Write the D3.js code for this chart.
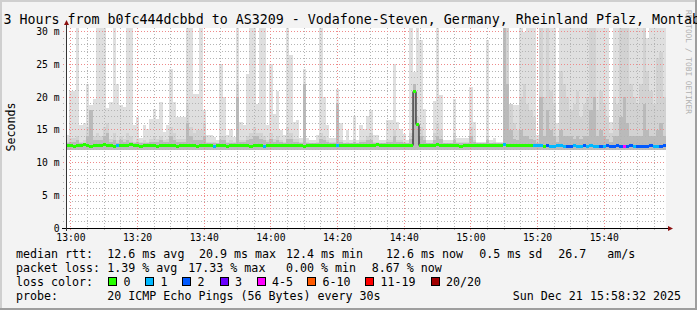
<!DOCTYPE html>
<html>
<head>
<meta charset="utf-8">
<script src="https://cdn.jsdelivr.net/npm/d3@7"></script>
<style>
  body { margin: 0; background: #f3f3f3; }
  svg { display: block; }
  text { font-family: "DejaVu Sans Mono", monospace; fill: #000; }
</style>
</head>
<body>
<div id="chart"></div>
<script>
// data: one bin per minute, 12:58:32 .. 15:58:32 (values in ms)
var startTime = new Date(2025, 11, 21, 12, 58, 32);
var endTime = new Date(2025, 11, 21, 15, 58, 32);

var smokeMax = [
  14.2,21,21,31,15.7,16,22,18.8,19.8,31,
  31,31,18.3,19.3,31,22,18.8,18.5,31,31,
  15.7,17,13.7,15.7,15.2,16.7,18.2,16.7,19.3,14.7,
  15.7,24.4,19.3,17,17,17,31,31,20.5,20.5,
  31,18,14.2,14.2,13.9,13.4,25.1,20,14.2,15.2,
  13.9,31,16.2,15.7,23.6,31,31,19,31,31,
  15.7,25.1,17.5,21,15,14.2,31,26.4,16.2,16.5,
  13.7,24.4,13.7,13.4,13.4,14.2,31,20,15.7,13.7,
  13.7,21.3,16,13.4,15,13.4,17.2,13.4,15.7,15.2,
  17.2,18,14.2,14.2,13.4,13.4,16.5,16.5,25.1,16.2,
  15.2,14.4,13.4,31,23.8,31,28.7,18.2,13.4,13.4,
  19.5,31,20.3,13.4,13.4,13.4,19.8,13.7,13.7,13.7,
  13.7,21.6,16.2,13.2,13.2,13.2,28.7,13.4,13.7,13.2,
  13.2,31,31,19,18.8,18.8,31,30,31,31,
  31,14.2,31,31,31,31,31,16,31,31,
  31,31,31,31,31,31,31,31,31,31,
  31,31,31,16.2,31,31,31,31,31,31,
  31,31,31,31,29,31,31,31,31,31
];

var smokeMid = [
  13.2,13.8,13.8,14,13.2,13.4,15.5,17,14,14.5,
  14,15.5,16,13.6,14.5,13.4,14,13.6,14.5,14,
  13.2,13.6,13.1,13.4,13.2,13.6,14,13.6,14,13.4,
  13.6,15.5,14.5,13.6,13.6,13.6,19,15.5,14.5,15,
  15,16,13.2,13.2,13.1,13,14,14,13.2,13.4,
  13.1,22,13.4,13.4,14,14.5,15.5,14.5,14.5,14,
  13.4,14.5,13.6,14,13.4,13.2,15.5,14.5,13.6,13.6,
  13.1,22,13.1,13,13,13.2,14.5,14,13.4,13.1,
  13.1,19,13.4,13,13.2,13,13.6,13,13.4,13.4,
  14,14.5,13.2,13.2,13,13,13.4,13.4,15,13.4,
  13.4,13.2,13,14.5,22,17,15.5,14,13,13,
  14.5,16,15,13,13,13,14.5,13.1,13.1,13.1,
  13.1,15.5,13.4,13,13,13,14,13,13.1,13,
  13,31,31,19,16,15,20,22,19,18,
  17,13.6,31,20,31,21,19,14,24,22,
  20,18,19,21,17,19,20,31,31,18,
  21,19,17,14.5,20,19,31,31,31,22,
  20,19,22,31,24,21,19,26,27,20
];

var smokeDark = [
  13,13.2,13.2,13.4,13,13,14,18,13.4,13.4,
  13.4,14,14.5,13.2,13.4,13,13.4,13.2,13.4,13.2,
  13,13.2,13,13,13,13.2,13.2,13.2,13.4,13.2,
  13.2,14,13.4,13.2,13.2,13.2,16,14,13.4,13.4,
  13.4,14,13,13,13,13,13.4,13.4,13,13,
  13,20,13.2,13.2,13.4,13.6,14,14,13.6,13.4,
  13.2,13.6,13.2,13.4,13.2,13,13.6,13.6,13.2,13.2,
  13,22,13,13,13,13,13.6,13.4,13.2,13,
  13,19,13.2,13,13,13,13.2,13,13.2,13.2,
  13.4,13.4,13,13,13,13,13.2,13.2,14,13.2,
  13.2,13,13,13.6,22,16,14,13.4,13,13,
  13.4,14,13.6,13,13,13,13.4,13,13,13,
  13,14,13.2,13,13,13,13.4,13,13,13,
  13,31,22,15,13.6,13.4,15,14,14,13.6,
  13.4,13,20,14,18,15,14,13.2,15,14,
  14,14,13.6,14,13.6,14,14,18,20,14,
  15,14,13.6,13.2,14,14,17,20,16,14,
  14,14,14,19,15,14,14,15,16,14
];

var smokeFloor = 12.0;

var median = [
  12.6,12.6,12.5,12.6,12.6,12.7,12.6,12.5,12.6,12.6,
  12.6,12.7,12.6,12.6,12.5,12.6,12.6,12.6,12.6,12.7,
  12.6,12.6,12.5,12.6,12.6,12.6,12.6,12.5,12.6,12.6,
  12.6,12.6,12.6,12.5,12.6,12.6,12.6,12.6,12.6,12.5,
  12.6,12.6,12.6,12.6,12.5,12.6,12.6,12.6,12.5,12.6,
  12.6,12.6,12.6,12.6,12.6,12.5,12.6,12.6,12.6,12.5,
  12.6,12.6,12.6,12.6,12.6,12.6,12.6,12.6,12.6,12.6,
  12.6,12.5,12.6,12.6,12.6,12.6,12.6,12.6,12.6,12.6,
  12.6,12.6,12.6,12.6,12.6,12.6,12.6,12.6,12.6,12.6,
  12.6,12.6,12.6,12.7,12.6,12.6,12.6,12.6,12.6,12.6,
  12.6,12.6,12.6,12.6,20.9,15.8,12.6,12.6,12.6,12.6,
  12.6,12.7,12.6,12.6,12.6,12.6,12.6,12.6,12.5,12.6,
  12.6,12.6,12.6,12.6,12.6,12.6,12.6,12.6,12.6,12.6,
  12.6,12.7,12.6,12.6,12.6,12.6,12.6,12.6,12.6,12.6,
  12.6,12.6,12.6,12.5,12.6,12.5,12.5,12.6,12.6,12.5,
  12.5,12.5,12.6,12.5,12.5,12.6,12.5,12.6,12.5,12.5,
  12.5,12.5,12.6,12.5,12.5,12.6,12.5,12.4,12.5,12.6,
  12.5,12.4,12.4,12.5,12.5,12.6,12.5,12.4,12.5,12.6
];

// lost pings (of 20) per bin
var loss = [
  0,0,0,0,0,0,0,0,0,0,
  0,0,0,0,0,1,0,0,0,0,
  0,0,0,0,0,0,0,0,0,0,
  0,0,0,0,0,0,0,0,0,0,
  0,0,0,0,1,0,0,0,0,0,
  0,0,0,0,0,0,0,0,0,1,
  0,0,0,0,0,0,0,0,0,0,
  0,0,0,0,0,0,0,0,0,0,
  0,1,0,0,0,0,0,0,0,0,
  0,0,0,0,0,0,0,0,0,0,
  0,0,0,0,0,0,0,0,0,0,
  0,0,0,0,0,0,0,0,0,0,
  0,0,0,0,0,0,0,0,0,0,
  0,1,0,0,0,0,0,0,0,0,
  1,1,1,0,2,1,1,1,1,1,
  2,2,1,1,1,2,1,1,1,1,
  2,1,2,2,2,2,2,4,2,2,
  1,2,2,2,2,2,1,1,2,2
];

var lossLabels = ["0", "1", "2", "3", "4-5", "6-10", "11-19", "20/20"];
var lossUpper = [0, 1, 2, 3, 5, 10, 19, 20];
var lossColors = ["#26ff00", "#00b8ff", "#0059ff", "#6a00ff", "#ff00ff", "#ff5a00", "#ff0000", "#a10000"];

var yTicks = [0, 5, 10, 15, 20, 25, 30];

var titleText = "3 Hours from b0fc444dcbbd to AS3209 - Vodafone-Steven, Germany, Rheinland Pfalz, Montabaur";
var rttLegend = ["median rtt:", "12.6 ms avg", "20.9 ms max", "12.4 ms min", "12.6 ms now", "0.5 ms sd", "26.7", "am/s"];
var lossLegend = ["packet loss:", "1.39 % avg", "17.33 % max", "0.00 % min", "8.67 % now"];
var probeLegend = ["probe:", "20 ICMP Echo Pings (56 Bytes) every 30s"];
var stampText = "Sun Dec 21 15:58:32 2025";

// layout
var W = 697, H = 310;
var plot = {left: 66, right: 666, top: 28, bottom: 228};

var svg = d3.select("#chart")
  .append("svg")
    .attr("width", W)
    .attr("height", H);

svg.append("rect")
  .attr("width", W).attr("height", H)
  .attr("fill", "#f3f3f3");

// frame
svg.append("path").attr("d", "M0,0H" + W + "V2H2V" + H + "H0Z").attr("fill", "#cfcfcf");
svg.append("path").attr("d", "M" + W + "," + H + "H0V" + (H - 2) + "H" + (W - 2) + "V0H" + W + "Z").attr("fill", "#9e9e9e");

svg.append("rect")
  .attr("x", plot.left).attr("y", plot.top)
  .attr("width", plot.right - plot.left).attr("height", plot.bottom - plot.top)
  .attr("fill", "#fff");

// scales
var x = d3.scaleTime()
  .domain([startTime, endTime])
  .range([plot.left, plot.right]);

var y = d3.scaleLinear()
  .domain([0, 30.6])
  .range([plot.bottom, plot.top])
  .clamp(true);

var bins = median.map(function(d, i) {
  return {
    t0: d3.timeMinute.offset(startTime, i),
    t1: d3.timeMinute.offset(startTime, i + 1),
    max: smokeMax[i], mid: smokeMid[i], dark: smokeDark[i],
    med: d, loss: loss[i]
  };
});

function bx(d) { return Math.round(x(d.t0)); }
function bw(d) { return Math.round(x(d.t1)) - Math.round(x(d.t0)); }

// smoke
var smoke = svg.append("g").attr("shape-rendering", "crispEdges");
[["max", "#dfdfdf"], ["mid", "#d2d2d2"], ["dark", "#bababa"]].forEach(function(layer) {
  smoke.selectAll(null)
    .data(bins)
    .enter().append("rect")
      .attr("x", bx)
      .attr("width", bw)
      .attr("y", function(d) { return Math.round(y(d[layer[0]])); })
      .attr("height", function(d) { return Math.round(y(smokeFloor)) - Math.round(y(d[layer[0]])); })
      .attr("fill", layer[1]);
});

// grid (dotted, drawn over the smoke)
var grid = svg.append("g").attr("fill", "none").attr("stroke-dasharray", "1,2");
var minorY = d3.range(0, 31, 1);
grid.selectAll(null)
  .data(minorY.filter(function(v) { return v % 5 != 0; }))
  .enter().append("line")
    .attr("x1", plot.left - 3).attr("x2", plot.right)
    .attr("y1", function(d) { return Math.floor(y(d)) + 0.5; })
    .attr("y2", function(d) { return Math.floor(y(d)) + 0.5; })
    .attr("stroke", "#b4b4b4");

var minorX = x.ticks(d3.timeMinute.every(5));
var majorX = x.ticks(d3.timeMinute.every(20));
grid.selectAll(null)
  .data(minorX.filter(function(t) { return t.getMinutes() % 20 != 0; }))
  .enter().append("line")
    .attr("y1", plot.top).attr("y2", plot.bottom + 3)
    .attr("x1", function(d) { return Math.floor(x(d)) + 0.5; })
    .attr("x2", function(d) { return Math.floor(x(d)) + 0.5; })
    .attr("stroke", "#b4b4b4");

grid.selectAll(null)
  .data(yTicks.slice(1))
  .enter().append("line")
    .attr("x1", plot.left - 3).attr("x2", plot.right)
    .attr("y1", function(d) { return Math.floor(y(d)) + 0.5; })
    .attr("y2", function(d) { return Math.floor(y(d)) + 0.5; })
    .attr("stroke", "#ee8a8a");

grid.selectAll(null)
  .data(majorX)
  .enter().append("line")
    .attr("y1", plot.top).attr("y2", plot.bottom + 3)
    .attr("x1", function(d) { return Math.floor(x(d)) + 0.5; })
    .attr("x2", function(d) { return Math.floor(x(d)) + 0.5; })
    .attr("stroke", "#ee8a8a");

// median line + loss colour
var medLine = d3.line()
  .x(function(d) { return d[0]; })
  .y(function(d) { return Math.floor(y(d[1])) + 0.5; })
  .curve(d3.curveStepAfter);
var medPts = bins.map(function(d) { return [Math.round(x(d.t0)), d.med]; });
medPts.push([Math.round(x(endTime)), median[median.length - 1]]);
svg.append("path")
  .attr("d", medLine(medPts))
  .attr("fill", "none")
  .attr("stroke", "#000")
  .attr("stroke-width", 1);

function lossClass(n) {
  for (var k = 0; k < lossUpper.length; k++) if (n <= lossUpper[k]) return k;
  return lossUpper.length - 1;
}

svg.append("g").attr("shape-rendering", "crispEdges")
  .selectAll("rect")
  .data(bins)
  .enter().append("rect")
    .attr("x", bx)
    .attr("width", bw)
    .attr("y", function(d) { return Math.floor(y(d.med)) - 1; })
    .attr("height", 3)
    .attr("fill", function(d) { return lossColors[lossClass(d.loss)]; });

// axes
svg.append("line")
  .attr("x1", plot.left - 4).attr("x2", plot.right + 2)
  .attr("y1", plot.bottom + 0.5).attr("y2", plot.bottom + 0.5)
  .attr("stroke", "#000");
svg.append("line")
  .attr("x1", plot.left + 0.5).attr("x2", plot.left + 0.5)
  .attr("y1", plot.bottom + 3).attr("y2", plot.top - 3)
  .attr("stroke", "#333");
svg.append("path")
  .attr("d", "M" + (plot.right + 2) + "," + (plot.bottom - 2) + "L" + (plot.right + 7) + "," + (plot.bottom + 0.5) + "L" + (plot.right + 2) + "," + (plot.bottom + 3) + "Z")
  .attr("fill", "#8b1010");
svg.append("path")
  .attr("d", "M" + (plot.left - 2) + "," + (plot.top - 3) + "L" + (plot.left + 0.5) + "," + (plot.top - 8) + "L" + (plot.left + 3) + "," + (plot.top - 3) + "Z")
  .attr("fill", "#8b1010");

// tick labels
svg.selectAll(null)
  .data(majorX)
  .enter().append("text")
    .attr("x", function(d) { return x(d); })
    .attr("y", 241)
    .attr("text-anchor", "middle")
    .style("font-size", "9.7px")
    .text(d3.timeFormat("%H:%M"));

svg.selectAll(null)
  .data(yTicks)
  .enter().append("text")
    .attr("x", 59.5)
    .attr("y", function(d) { return y(d) + 3.5; })
    .attr("text-anchor", "end")
    .style("font-size", "9.7px")
    .text(function(d) { return d == 0 ? "0" : d + " m"; });

svg.append("text")
  .attr("transform", "translate(14.5,127) rotate(-90)")
  .attr("text-anchor", "middle")
  .style("font-size", "11.65px")
  .text("Seconds");

// watermark + title
svg.append("text")
  .attr("transform", "translate(686,10) rotate(90)")
  .style("font-size", "7.85px")
  .style("fill", "#b0b0b0")
  .text("RRDTOOL / TOBI OETIKER");

svg.append("text")
  .attr("x", 3.5).attr("y", 24)
  .style("font-size", "13.3px")
  .attr("xml:space", "preserve")
  .text(titleText);

// legend
var rowY = [257.7, 271.9, 286.1, 300.3];
var rttX = [16, 107.3, 199, 286, 386, 479.3, 558.3, 607.3];
var lossX = [16, 107.3, 188.3, 286, 371.7];
var legend = svg.append("g").style("font-size", "11.65px");

legend.selectAll(null).data(rttLegend).enter().append("text")
  .attr("x", function(d, i) { return rttX[i]; }).attr("y", rowY[0]).text(function(d) { return d; });
legend.selectAll(null).data(lossLegend).enter().append("text")
  .attr("x", function(d, i) { return lossX[i]; }).attr("y", rowY[1]).text(function(d) { return d; });

legend.append("text").attr("x", 16).attr("y", rowY[2]).text("loss color:");
var swatchX = [108.5, 145.5, 182.5, 220, 257, 307.5, 365.5, 431];
var sw = legend.selectAll(null).data(lossLabels).enter().append("g");
sw.append("rect")
  .attr("x", function(d, i) { return Math.floor(swatchX[i]) + 0.5; })
  .attr("y", 277.5).attr("width", 8).attr("height", 8)
  .attr("fill", function(d, i) { return lossColors[i]; })
  .attr("stroke", "#000");
sw.append("text")
  .attr("x", function(d, i) { return swatchX[i] + 15; })
  .attr("y", rowY[2])
  .text(function(d) { return d; });

legend.append("text").attr("x", 16).attr("y", rowY[3]).text(probeLegend[0]);
legend.append("text").attr("x", 107.3).attr("y", rowY[3]).text(probeLegend[1]);
legend.append("text").attr("x", 681).attr("y", rowY[3]).attr("text-anchor", "end").text(stampText);
</script>
</body>
</html>
